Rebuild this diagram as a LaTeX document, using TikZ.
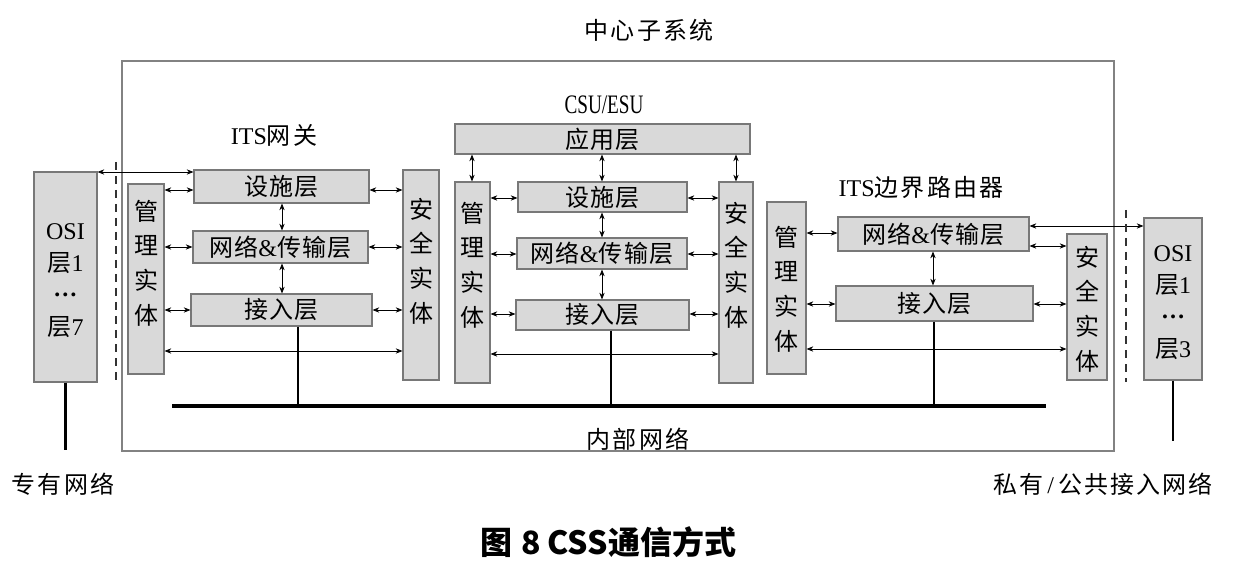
\documentclass[tikz,border=0pt]{standalone}
\usepackage{fontspec}
\usepackage{graphicx}
\setmainfont{Liberation Serif}
\newfontfamily\cjk{Noto Sans CJK SC}[LetterSpace=6]
\newfontfamily\cjkwide{Noto Sans CJK SC}[LetterSpace=9]
\newfontfamily\capf{Noto Sans CJK SC}
\usetikzlibrary{arrows.meta,fit}
\definecolor{boxfill}{RGB}{217,217,217}
\definecolor{boxline}{RGB}{120,120,120}
\definecolor{frameline}{RGB}{130,130,130}
\tikzset{
  box/.style={draw=boxline, fill=boxfill, line width=0.9pt, inner sep=0pt},
  ltext/.style={font=\fontsize{18}{18}\selectfont\cjk, inner sep=0pt},
  vtext/.style={font=\fontsize{18}{26}\selectfont\cjk, align=center, inner sep=0pt},
  ositext/.style={font=\fontsize{18}{24}\selectfont\cjk, align=center, inner sep=0pt, yshift=-3pt},
  lbl/.style={font=\fontsize{18}{18}\selectfont\cjkwide, inner sep=0pt},
  biarrow/.style={{Stealth[length=5pt,width=4pt]}-{Stealth[length=5pt,width=4pt]}, line width=0.6pt},
  busline/.style={line width=3pt},
  dropline/.style={line width=2.2pt},
  dashline/.style={dash pattern=on 6pt off 4.5pt, line width=1.1pt, draw=black!80},
  frame/.style={draw=frameline, line width=0.8pt, inner sep=0pt}
}
% box with centred label: name, corner 1, corner 2, text
\newcommand\mkbox[4]{%
  \node[box, fit={(#2) (#3)}] (#1) {};
  \node[ltext] (#1-t) at (#1.center) {#4};}
\begin{document}
\begin{tikzpicture}[x=0.75pt,y=-0.75pt]
\useasboundingbox (0,0) rectangle (1233,588);
% outer frame
\node[frame, fit={(122,61) (1114,451)}] (css) {};
% ---------- left: ITS gateway ----------
\node[box, fit={(34,172) (97,382)}] (gosi) {};
\node[ositext] (gosi-t) at (gosi.center) {{\rmfamily OSI}\\层{\rmfamily 1}\\\raisebox{0.3em}{\rmfamily\bfseries …}\\层{\rmfamily 7}};
\node[box, fit={(128,184) (164,374)}] (gm) {};
\node[vtext] (gm-t) at (146,263) {管\\理\\实\\体};
\mkbox{gf}{194,170}{369,203}{设施层}
\mkbox{gn}{193,231}{368,263}{网络{\rmfamily\&}传输层}
\mkbox{ga}{191,294}{372,326}{接入层}
\node[box, fit={(403,170) (439,380)}] (gs) {};
\node[vtext] (gs-t) at (421,261) {安\\全\\实\\体};
% ---------- middle: CSU/ESU ----------
\mkbox{capp}{455,124}{750,154}{应用层}
\node[box, fit={(455,182) (490,383)}] (cm) {};
\node[vtext] (cm-t) at (472.5,265) {管\\理\\实\\体};
\mkbox{cf}{518,182}{687,212}{设施层}
\mkbox{cn}{517,238}{687,269}{网络{\rmfamily\&}传输层}
\mkbox{ca}{516,300}{689,330}{接入层}
\node[box, fit={(719,182) (753,383)}] (cs) {};
\node[vtext] (cs-t) at (736,265) {安\\全\\实\\体};
% ---------- right: ITS border router ----------
\node[box, fit={(767,202) (806,374)}] (rm) {};
\node[vtext] (rm-t) at (786.5,289) {管\\理\\实\\体};
\mkbox{rn}{838,217}{1029,251}{网络{\rmfamily\&}传输层}
\mkbox{ra}{836,286}{1033,321}{接入层}
\node[box, fit={(1067,234) (1107,380)}] (rs) {};
\node[vtext] (rs-t) at (1087,309) {安\\全\\实\\体};
\node[box, fit={(1144,218) (1202,380)}] (rosi) {};
\node[ositext] (rosi-t) at (rosi.center) {{\rmfamily OSI}\\层{\rmfamily 1}\\\raisebox{0.3em}{\rmfamily\bfseries …}\\层{\rmfamily 3}};
% ---------- labels ----------
\node[lbl] (l-css) at (649,30) {中心子系统};
\node[inner sep=0pt, font=\fontsize{20}{20}\selectfont\rmfamily] (l-csu) at (604,105) {\scalebox{0.72}[1]{CSU/ESU}};
\node[lbl] (l-gw) at (274,135) {{\rmfamily ITS}网关};
\node[lbl] (l-br) at (921,187) {{\rmfamily ITS}边界路由器};
\node[lbl] (l-int) at (638,439) {内部网络};
\node[lbl] (l-priv) at (63,484) {专有网络};
\node[lbl] (l-pub) at (1103,484) {私有{\rmfamily\,/\,}公共接入网络};
\node[inner sep=0pt, font=\fontsize{24}{24}\selectfont\capf\bfseries] (caption) at (608,542) {图\hspace{0.3em}8\hspace{0.2em}CSS通信方式};
% ---------- arrows: left ----------
\draw[biarrow] (gosi.east |- 0,172) -- (gf.west |- 0,172);
\draw[biarrow] (gm.east |- 0,190) -- (gf.west |- 0,190);
\draw[biarrow] (gf.east |- 0,190) -- (gs.west |- 0,190);
\draw[biarrow] (gm.east |- 0,247) -- (gn.west |- 0,247);
\draw[biarrow] (gn.east |- 0,247) -- (gs.west |- 0,247);
\draw[biarrow] (gm.east |- 0,310) -- (ga.west |- 0,310);
\draw[biarrow] (ga.east |- 0,310) -- (gs.west |- 0,310);
\draw[biarrow] (gm.east |- 0,351) -- (gs.west |- 0,351);
\draw[biarrow] (282,0 |- gf.south) -- (282,0 |- gn.north);
\draw[biarrow] (282,0 |- gn.south) -- (282,0 |- ga.north);
% ---------- arrows: middle ----------
\draw[biarrow] (472,0 |- capp.south) -- (472,0 |- cm.north);
\draw[biarrow] (602,0 |- capp.south) -- (602,0 |- cf.north);
\draw[biarrow] (736,0 |- capp.south) -- (736,0 |- cs.north);
\draw[biarrow] (cm.east |- 0,198) -- (cf.west |- 0,198);
\draw[biarrow] (cf.east |- 0,198) -- (cs.west |- 0,198);
\draw[biarrow] (cm.east |- 0,254) -- (cn.west |- 0,254);
\draw[biarrow] (cn.east |- 0,254) -- (cs.west |- 0,254);
\draw[biarrow] (cm.east |- 0,314) -- (ca.west |- 0,314);
\draw[biarrow] (ca.east |- 0,314) -- (cs.west |- 0,314);
\draw[biarrow] (cm.east |- 0,354) -- (cs.west |- 0,354);
\draw[biarrow] (602,0 |- cf.south) -- (602,0 |- cn.north);
\draw[biarrow] (602,0 |- cn.south) -- (602,0 |- ca.north);
% ---------- arrows: right ----------
\draw[biarrow] (rm.east |- 0,233) -- (rn.west |- 0,233);
\draw[biarrow] (rn.east |- 0,226) -- (rosi.west |- 0,226);
\draw[biarrow] (rn.east |- 0,246) -- (rs.west |- 0,246);
\draw[biarrow] (rm.east |- 0,304) -- (ra.west |- 0,304);
\draw[biarrow] (ra.east |- 0,304) -- (rs.west |- 0,304);
\draw[biarrow] (rm.east |- 0,349) -- (rs.west |- 0,349);
\draw[biarrow] (933,0 |- rn.south) -- (933,0 |- ra.north);
% ---------- internal network bus ----------
\coordinate (busL) at (172,406);
\coordinate (busR) at (1046,406);
\draw[busline] (busL) -- (busR);
\draw[dropline] (298,0 |- ga.south) -- (298,0 |- busL);
\draw[dropline] (611,0 |- ca.south) -- (611,0 |- busL);
\draw[dropline] (934,0 |- ra.south) -- (934,0 |- busL);
% ---------- external networks ----------
\coordinate (netL) at (65.5,450);
\coordinate (netR) at (1173,441);
\draw[dropline] (gosi.south) -- (netL);
\draw[dropline] (rosi.south) -- (netR);
% ---------- dashed borders ----------
\coordinate (dL1) at (116,162);
\coordinate (dL2) at (116,380);
\coordinate (dR1) at (1126,210);
\coordinate (dR2) at (1126,382);
\draw[dashline] (dL1) -- (dL2);
\draw[dashline] (dR1) -- (dR2);
\end{tikzpicture}
\end{document}
